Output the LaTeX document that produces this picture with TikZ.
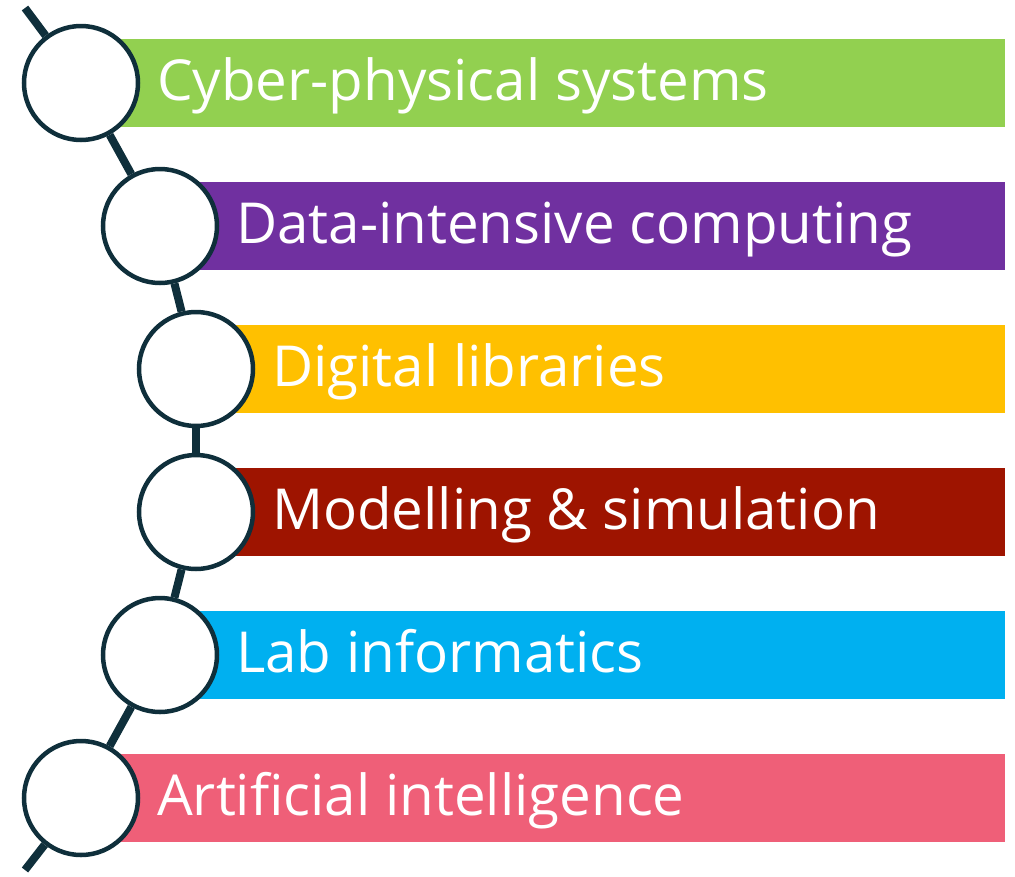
\documentclass[tikz,border=0pt]{standalone}
\usepackage{fontspec}
\setmainfont{Open Sans}
\definecolor{cpsgreen}{HTML}{92D050}
\definecolor{dipurple}{HTML}{7030A0}
\definecolor{dlamber}{HTML}{FFC000}
\definecolor{msred}{HTML}{9E1400}
\definecolor{liblue}{HTML}{00B0F0}
\definecolor{aipink}{HTML}{EF5F78}
\definecolor{chain}{HTML}{0F2F3B}
\tikzset{
  bead/.style={circle, draw=chain, line width=4.5pt, fill=white, minimum size=114pt, inner sep=0pt},
  band/.style={rectangle, anchor=west, minimum height=88pt, inner sep=0pt},
  bandtext/.style={anchor=base west, inner sep=0pt, text=white, font=\fontsize{56.5}{66}\selectfont},
  link/.style={draw=chain, line width=8pt}
}
\begin{document}
\begin{tikzpicture}[x=1pt,y=-1pt]
\useasboundingbox (0,0) rectangle (1015,876);
% coloured bands, each starting under its bead
\foreach \n/\cx/\cy/\col in {1/81/83/cpsgreen, 2/160/226/dipurple, 3/196/369/dlamber,
                             4/196/512/msred, 5/160/655/liblue, 6/81/798/aipink}{
  \pgfmathsetmacro{\w}{1005-\cx}
  \node[band, fill=\col, minimum width=\w pt] (b\n) at (\cx,\cy) {};
}
% labels (baseline placed so capitals sit centred in the band)
\node[bandtext] (t1) at (157,100) {Cyber-physical systems};
\node[bandtext] (t2) at (236,243) {Data-intensive computing};
\node[bandtext] (t3) at (272,386) {Digital libraries};
\node[bandtext] (t4) at (272,529) {Modelling \& simulation};
\node[bandtext] (t5) at (236,672) {Lab informatics};
\node[bandtext] (t6) at (157,815) {Artificial intelligence};
% beads
\node[bead] (c1) at (81,83)  {};
\node[bead] (c2) at (160,226) {};
\node[bead] (c3) at (196,369) {};
\node[bead] (c4) at (196,512) {};
\node[bead] (c5) at (160,655) {};
\node[bead] (c6) at (81,798)  {};
\coordinate (top) at (25,8);
\coordinate (bottom) at (25,870);
% chain linking the beads
\draw[link] (top) -- (c1);
\draw[link] (c1) -- (c2);
\draw[link] (c2) -- (c3);
\draw[link] (c3) -- (c4);
\draw[link] (c4) -- (c5);
\draw[link] (c5) -- (c6);
\draw[link] (c6) -- (bottom);
\end{tikzpicture}
\end{document}
